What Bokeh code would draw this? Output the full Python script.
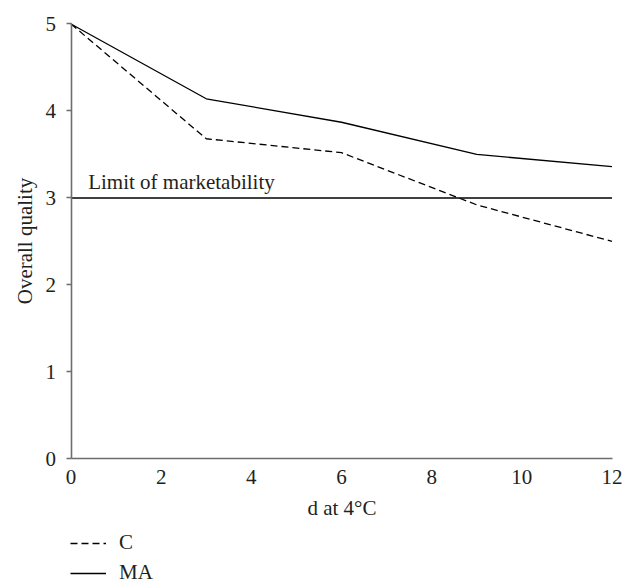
from bokeh.plotting import figure
from bokeh.models import Legend, LegendItem, Label, FixedTicker, Range1d
from bokeh.embed import file_html
from bokeh.resources import INLINE

days = [0, 3, 6, 9, 12]
quality_c = [5.0, 3.68, 3.52, 2.92, 2.50]
quality_ma = [5.0, 4.14, 3.87, 3.50, 3.36]
x_ticks = [0, 2, 4, 6, 8, 10, 12]
y_ticks = [0, 1, 2, 3, 4, 5]
limit_value = 3
limit_text = "Limit of marketability"
x_title = "d at 4°C"
y_title = "Overall quality"

FONT = "Liberation Serif"
FS = "21px"
TXT = "#231f20"
AX = "#6d6e71"

# the frame covers the whole canvas; axes sit at x=0 / y=0 (layout only)
X_LOW, X_HIGH = -1.564, 12.277
Y_LOW, Y_HIGH = -1.434, 5.270

p = figure(width=624, height=583, output_backend="svg", toolbar_location=None,
           x_range=Range1d(X_LOW, X_HIGH), y_range=Range1d(Y_LOW, Y_HIGH),
           min_border_left=0, min_border_right=0, min_border_top=0, min_border_bottom=0)
p.outline_line_color = None
p.xgrid.visible = False
p.ygrid.visible = False
p.background_fill_color = None

for ax in (p.xaxis[0], p.yaxis[0]):
    ax.axis_line_color = AX
    ax.axis_line_width = 1.6
    ax.major_tick_line_color = AX
    ax.major_tick_line_width = 1.6
    ax.minor_tick_line_color = None
    ax.major_label_text_font = FONT
    ax.major_label_text_font_size = FS
    ax.major_label_text_color = TXT
    ax.axis_label_text_font = FONT
    ax.axis_label_text_font_size = FS
    ax.axis_label_text_font_style = "normal"
    ax.axis_label_text_color = TXT

p.xaxis.ticker = FixedTicker(ticks=x_ticks)
p.yaxis.ticker = FixedTicker(ticks=y_ticks)
p.xaxis.fixed_location = 0
p.xaxis.bounds = (x_ticks[0], x_ticks[-1])
p.xaxis.major_tick_out = 0
p.xaxis.major_tick_in = 0
p.xaxis.major_label_standoff = 11
p.xaxis.axis_label = x_title
p.xaxis.axis_label_standoff = 9
p.yaxis.fixed_location = 0
p.yaxis.bounds = (y_ticks[0], y_ticks[-1])
p.yaxis.major_tick_out = 5
p.yaxis.major_tick_in = 0
p.yaxis.major_label_standoff = 10
p.yaxis.axis_label = y_title
p.yaxis.axis_label_standoff = 6

p.add_layout(Label(x=0.38, y=limit_value, y_offset=4, text=limit_text, text_font=FONT,
                   text_font_size=FS, text_color=TXT, text_baseline="bottom"))

r_lim = p.line([x_ticks[0], x_ticks[-1]], [limit_value, limit_value], line_color="#000000", line_width=1.5)
r_c = p.line(days, quality_c, line_color="#000000", line_width=1.3, line_dash="7 4")
r_ma = p.line(days, quality_ma, line_color="#000000", line_width=1.3)

legend = Legend(items=[LegendItem(label="C", renderers=[r_c]),
                       LegendItem(label="MA", renderers=[r_ma])],
                location=(70, -2), orientation="vertical")
legend.margin = 0
legend.padding = 0
legend.spacing = 5
legend.glyph_width = 36
legend.glyph_height = 20
legend.label_height = 20
legend.label_standoff = 13
legend.label_text_font = FONT
legend.label_text_font_size = FS
legend.label_text_color = TXT
legend.border_line_color = None
legend.background_fill_alpha = 0
p.add_layout(legend)

open("out.html", "w").write(file_html(p, INLINE))
